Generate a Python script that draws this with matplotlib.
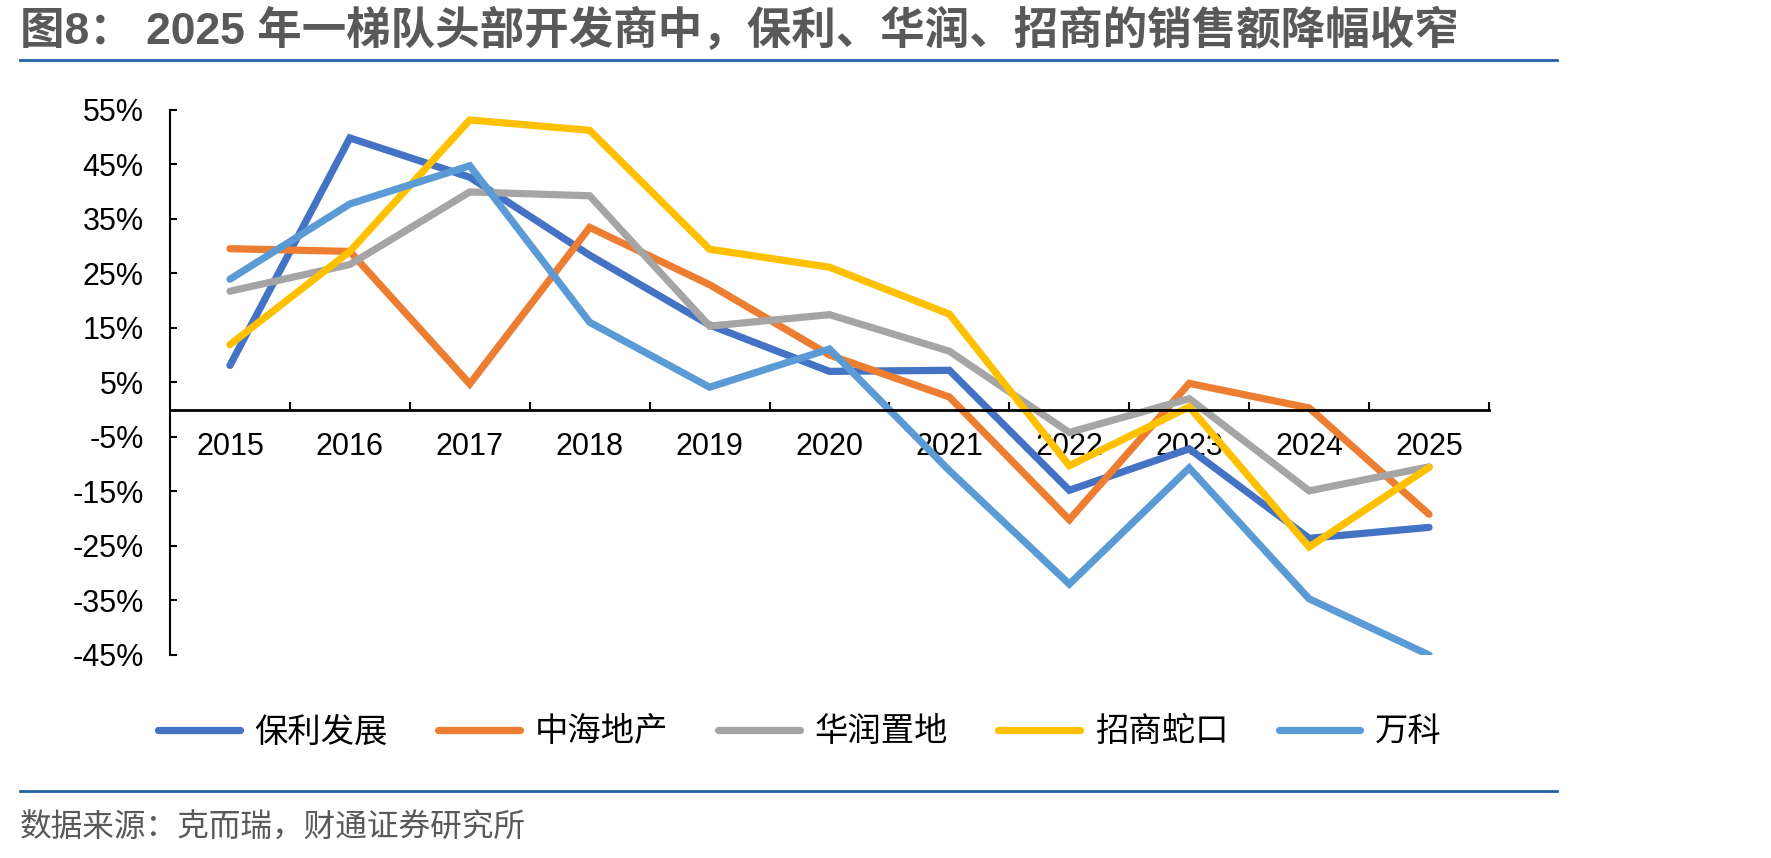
import matplotlib
matplotlib.use("Agg")
import matplotlib.pyplot as plt
from matplotlib.lines import Line2D
from matplotlib.ticker import FixedLocator

plt.rcParams['font.family'] = ['Liberation Sans', 'Noto Sans CJK SC', 'DejaVu Sans']

years = ['2015', '2016', '2017', '2018', '2019', '2020', '2021', '2022', '2023', '2024', '2025']
poly = [8.1, 49.8, 42.6, 28.3, 15.5, 7.0, 7.2, -14.8, -7.2, -23.6, -21.6]
cof = [29.5, 29.0, 4.7, 33.4, 22.9, 10.0, 2.3, -20.2, 4.8, 0.3, -19.2]
cr_land = [21.7, 26.6, 39.9, 39.2, 15.3, 17.4, 10.7, -4.2, 2.0, -14.9, -10.5]
cmsk = [11.9, 29.0, 53.1, 51.2, 29.4, 26.1, 17.5, -10.3, 0.5, -25.2, -10.6]
vanke = [23.9, 37.7, 44.7, 16.0, 4.1, 11.1, -11.2, -32.0, -10.7, -34.7, -45.0]

names = ['保利发展', '中海地产', '华润置地', '招商蛇口', '万科']
colors = ['#4472C4', '#ED7D31', '#A5A5A5', '#FFC000', '#5B9BD5']
series = [poly, cof, cr_land, cmsk, vanke]

W, H = 1771, 858
fig = plt.figure(figsize=(W / 100, H / 100), dpi=100)
ax = fig.add_axes([170 / W, 203 / H, (1489 - 170) / W, (655 - 109.6) / H])

x = list(range(len(years)))
for vals, c, n in zip(series, colors, names):
    ax.plot(x, vals, color=c, lw=5.2, label=n, solid_capstyle='round', solid_joinstyle='miter')

ax.set_xlim(-0.5, len(years) - 0.5)
ax.set_ylim(-45, 55)
yt = list(range(-45, 56, 10))
ax.set_yticks(yt)
ax.set_yticklabels([f'{v}%' for v in yt])

ax.spines['top'].set_visible(False)
ax.spines['right'].set_visible(False)
ax.spines['bottom'].set_position(('data', 0))
ax.spines['bottom'].set_linewidth(2)
ax.spines['left'].set_linewidth(1.5)

ax.set_xticks(x)
ax.set_xticklabels(years)
ax.xaxis.set_minor_locator(FixedLocator([i + 0.5 for i in x]))
ax.tick_params(axis='x', which='major', length=0, pad=16, labelsize=22)
ax.tick_params(axis='x', which='minor', direction='in', length=6, width=1.5)
ax.tick_params(axis='y', direction='in', length=5, width=1.5, pad=19, labelsize=22)

fig.text(20 / W, 1 - 31 / H, '图8： 2025 年一梯队头部开发商中，保利、华润、招商的销售额降幅收窄',
         fontsize=32, fontweight='bold', color='#595959', va='center', ha='left',
         family=['Liberation Sans', 'Noto Sans CJK SC'])
fig.add_artist(Line2D([20 / W, 1557 / W], [1 - 60 / H, 1 - 60 / H], color='#2162A8', lw=2))
fig.add_artist(Line2D([20 / W, 1557 / W], [1 - 791 / H, 1 - 791 / H], color='#2162A8', lw=2))
fig.text(20 / W, 1 - 828 / H, '数据来源：克而瑞，财通证券研究所', fontsize=22.8, color='#595959',
         va='center', ha='left', family=['Noto Sans CJK SC'])

fig.legend(loc='center', bbox_to_anchor=(800 / W, 1 - 732 / H), ncol=5, frameon=False,
           prop={'family': 'Noto Sans CJK SC', 'size': 24}, handlelength=2.45,
           handletextpad=0.45, columnspacing=1.5)

fig.savefig('out.png', dpi=100)
